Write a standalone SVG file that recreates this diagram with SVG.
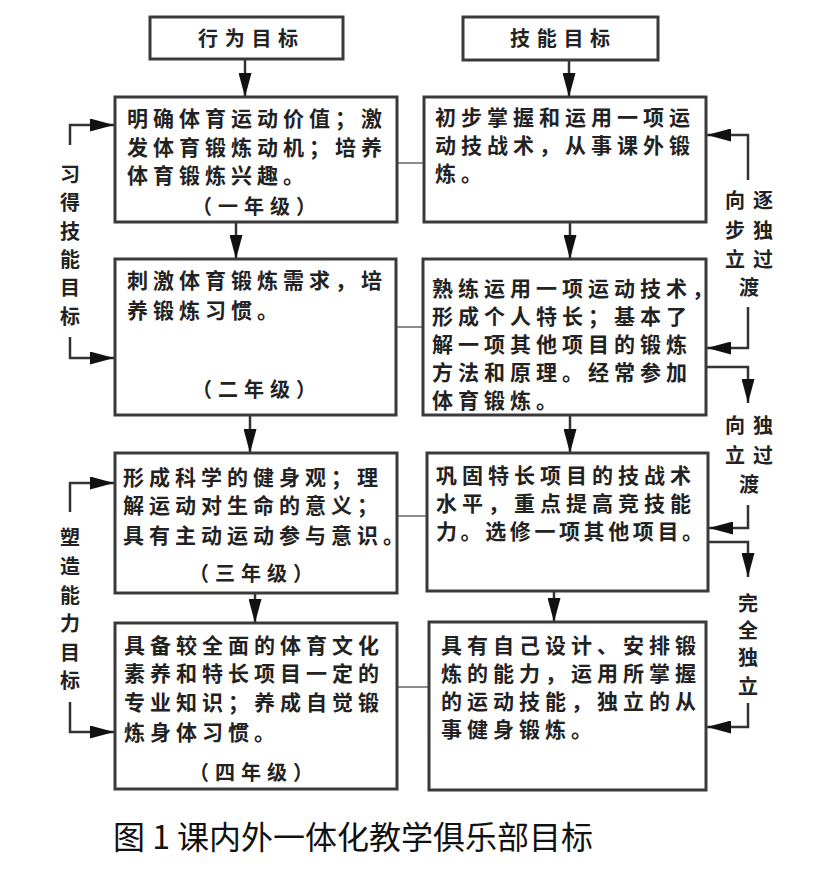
<svg xmlns="http://www.w3.org/2000/svg" width="817" height="889" viewBox="0 0 817 889">
<style>
.box{fill:#fff;stroke:#3a3a3a;stroke-width:3}
.t{font-family:"Noto Sans CJK SC","Noto Sans",sans-serif;font-size:21px;font-weight:bold;fill:#222;letter-spacing:5px}
.g{font-family:"Noto Sans CJK SC","Noto Sans",sans-serif;font-size:20px;font-weight:bold;fill:#222;letter-spacing:6px}
.h{font-family:"Noto Sans CJK SC","Noto Sans",sans-serif;font-size:20px;font-weight:bold;fill:#222;letter-spacing:6.7px}
.s{font-family:"Noto Sans CJK SC","Noto Sans",sans-serif;font-size:20px;font-weight:bold;fill:#222;text-anchor:middle}
.cap{font-family:"Noto Sans CJK SC","Noto Sans",sans-serif;font-size:32px;font-weight:normal;fill:#111}
.c{fill:none;stroke:#333;stroke-width:2.5}
.thin{fill:none;stroke:#666;stroke-width:1.5}
</style>
<defs>
<marker id="ah" markerUnits="userSpaceOnUse" markerWidth="24" markerHeight="13" viewBox="0 0 24 13" refX="24" refY="6.5" orient="auto">
<path d="M0,0 L24,6.5 L0,13 Z" fill="#111"/>
</marker>
</defs>
<rect width="817" height="889" fill="#fff"/>

<g id="connectors">
<line class="c" x1="245" y1="59" x2="245" y2="97" marker-end="url(#ah)"/>
<line class="c" x1="569" y1="60" x2="569" y2="97" marker-end="url(#ah)"/>
<line class="c" x1="236" y1="222" x2="236" y2="259" marker-end="url(#ah)"/>
<line class="c" x1="250" y1="415" x2="250" y2="453" marker-end="url(#ah)"/>
<line class="c" x1="255" y1="593" x2="255" y2="623" marker-end="url(#ah)"/>
<line class="c" x1="570" y1="222" x2="570" y2="259" marker-end="url(#ah)"/>
<line class="c" x1="570" y1="415" x2="570" y2="453" marker-end="url(#ah)"/>
<line class="c" x1="554" y1="591" x2="554" y2="622" marker-end="url(#ah)"/>
<line class="thin" x1="397" y1="163" x2="424" y2="163"/>
<line class="thin" x1="396" y1="327" x2="423" y2="327"/>
<line class="thin" x1="397" y1="516" x2="427" y2="516"/>
<line class="thin" x1="397" y1="687" x2="429" y2="687"/>
<path class="c" d="M70,145 V125 H114" marker-end="url(#ah)"/>
<path class="c" d="M70,337 V358 H114" marker-end="url(#ah)"/>
<path class="c" d="M70,512 V483 H114" marker-end="url(#ah)"/>
<path class="c" d="M70,702 V732 H114" marker-end="url(#ah)"/>
<path class="c" d="M748,180 V135 H707" marker-end="url(#ah)"/>
<path class="c" d="M748,307 V348 H707" marker-end="url(#ah)"/>
<path class="c" d="M706,367 H748 V403" marker-end="url(#ah)"/>
<path class="c" d="M748,505 V528 H709" marker-end="url(#ah)"/>
<path class="c" d="M708,542 H748 V577" marker-end="url(#ah)"/>
<path class="c" d="M748,703 V727 H707" marker-end="url(#ah)"/>
</g>

<g id="label-left-1">
<text class="s" x="70" y="182">习</text>
<text class="s" x="70" y="210">得</text>
<text class="s" x="70" y="239">技</text>
<text class="s" x="70" y="267">能</text>
<text class="s" x="70" y="295">目</text>
<text class="s" x="70" y="324">标</text>
</g>
<g id="label-left-2">
<text class="s" x="70" y="545">塑</text>
<text class="s" x="70" y="574">造</text>
<text class="s" x="70" y="603">能</text>
<text class="s" x="70" y="631">力</text>
<text class="s" x="70" y="660">目</text>
<text class="s" x="70" y="688">标</text>
</g>
<g id="label-right-1">
<text class="s" x="735" y="208">向</text>
<text class="s" x="763" y="208">逐</text>
<text class="s" x="735" y="238">步</text>
<text class="s" x="763" y="238">独</text>
<text class="s" x="735" y="267">立</text>
<text class="s" x="763" y="267">过</text>
<text class="s" x="749" y="295">渡</text>
</g>
<g id="label-right-2">
<text class="s" x="735" y="433">向</text>
<text class="s" x="763" y="433">独</text>
<text class="s" x="735" y="463">立</text>
<text class="s" x="763" y="463">过</text>
<text class="s" x="749" y="492">渡</text>
</g>
<g id="label-right-3">
<text class="s" x="748" y="611">完</text>
<text class="s" x="748" y="638">全</text>
<text class="s" x="748" y="665">独</text>
<text class="s" x="748" y="694">立</text>
</g>

<g id="node-behavior">
<rect class="box" x="150" y="17" width="193" height="42"/>
<text class="h" x="198" y="46">行为目标</text>
</g>
<g id="node-skill">
<rect class="box" x="463" y="17" width="195" height="43"/>
<text class="h" x="510" y="46">技能目标</text>
</g>

<g id="node-b1">
<rect class="box" x="115" y="97" width="282" height="125"/>
<text class="t" x="127" y="126">明确体育运动价值；激</text>
<text class="t" x="127" y="155">发体育锻炼动机；培养</text>
<text class="t" x="127" y="183">体育锻炼兴趣。</text>
<text class="g" x="192" y="214">（一年级）</text>
</g>
<g id="node-s1">
<rect class="box" x="424" y="97" width="282" height="125"/>
<text class="t" x="435" y="125">初步掌握和运用一项运</text>
<text class="t" x="435" y="153">动技战术，从事课外锻</text>
<text class="t" x="435" y="181">炼。</text>
</g>

<g id="node-b2">
<rect class="box" x="115" y="259" width="281" height="156"/>
<text class="t" x="127" y="288">刺激体育锻炼需求，培</text>
<text class="t" x="127" y="318">养锻炼习惯。</text>
<text class="g" x="192" y="397">（二年级）</text>
</g>
<g id="node-s2">
<rect class="box" x="423" y="259" width="283" height="156"/>
<text class="t" x="432" y="296">熟练运用一项运动技术，</text>
<text class="t" x="432" y="324">形成个人特长；基本了</text>
<text class="t" x="432" y="352">解一项其他项目的锻炼</text>
<text class="t" x="432" y="380">方法和原理。经常参加</text>
<text class="t" x="432" y="408">体育锻炼。</text>
</g>

<g id="node-b3">
<rect class="box" x="115" y="453" width="282" height="140"/>
<text class="t" x="123" y="485">形成科学的健身观；理</text>
<text class="t" x="123" y="513">解运动对生命的意义；</text>
<text class="t" x="123" y="543">具有主动运动参与意识。</text>
<text class="g" x="189" y="581">（三年级）</text>
</g>
<g id="node-s3">
<rect class="box" x="427" y="453" width="281" height="138"/>
<text class="t" x="436" y="483">巩固特长项目的技战术</text>
<text class="t" x="436" y="511">水平，重点提高竞技能</text>
<text class="t" x="436" y="539" style="letter-spacing:3.6px">力。选修一项其他项目。</text>
</g>

<g id="node-b4">
<rect class="box" x="115" y="623" width="282" height="166"/>
<text class="t" x="124" y="653">具备较全面的体育文化</text>
<text class="t" x="124" y="681">素养和特长项目一定的</text>
<text class="t" x="124" y="710">专业知识；养成自觉锻</text>
<text class="t" x="124" y="740">炼身体习惯。</text>
<text class="g" x="189" y="780">（四年级）</text>
</g>
<g id="node-s4">
<rect class="box" x="429" y="622" width="277" height="168"/>
<text class="t" x="441" y="653">具有自己设计、安排锻</text>
<text class="t" x="441" y="681">炼的能力，运用所掌握</text>
<text class="t" x="441" y="709">的运动技能，独立的从</text>
<text class="t" x="441" y="737">事健身锻炼。</text>
</g>

<g id="caption">
<text class="cap" x="113" y="849">图 1 课内外一体化教学俱乐部目标</text>
</g>
</svg>
